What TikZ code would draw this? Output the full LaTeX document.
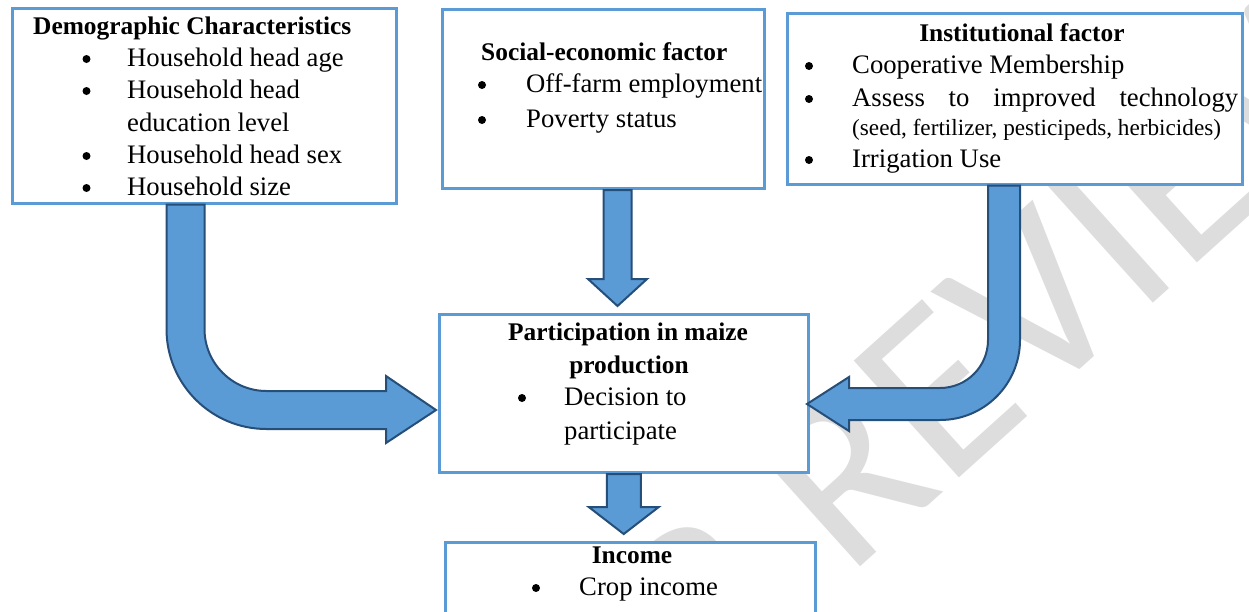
\documentclass[tikz,border=0pt]{standalone}
\usepackage{fontspec}
\setmainfont{Liberation Serif}
\newfontfamily\wmfont{Carlito}
\definecolor{boxblue}{RGB}{91,155,213}
\definecolor{arrowfill}{RGB}{91,155,213}
\definecolor{arrowline}{RGB}{37,78,121}
\definecolor{wmgray}{RGB}{221,221,221}
\tikzset{
  boxnode/.style={draw=boxblue,line width=3pt,fill=white,inner sep=0pt},
  headtxt/.style={anchor=base,inner sep=0pt,font=\bfseries\fontsize{25.4}{30}\selectfont},
  itemtxt/.style={anchor=base west,inner sep=0pt,font=\fontsize{26.7}{32}\selectfont},
  smalltxt/.style={anchor=base west,inner sep=0pt,font=\fontsize{23.2}{28}\selectfont},
  bulletdot/.style={circle,fill=black,inner sep=0pt,minimum size=8pt,yshift=7pt},
  blockarrow/.style={fill=arrowfill,draw=arrowline,line width=2pt,line join=miter}
}
\begin{document}
\begin{tikzpicture}[x=1pt,y=-1pt]
      \useasboundingbox (0,0) rectangle (1249,611);
      \clip (0,0) rectangle (1249,611);
      \fill[white] (0,0) rectangle (1249,611);

      % watermark
      \node[anchor=base west,rotate=42,inner sep=0pt,text=wmgray,font=\wmfont\fontsize{245}{245}\selectfont] (wm) at (436,949) {PEER REVIEW};

      % boxes
      \node[boxnode,minimum width=384pt,minimum height=194.5pt] (Dem) at (204.5,105.75) {};
      \node[boxnode,minimum width=322pt,minimum height=179pt] (Soc) at (603.5,99) {};
      \node[boxnode,minimum width=455pt,minimum height=171pt] (Inst) at (1015,98.5) {};
      \node[boxnode,minimum width=369.5pt,minimum height=158.5pt] (Part) at (623.75,393.25) {};
      \node[boxnode,minimum width=370.5pt,minimum height=98pt] (Inc) at (630.25,591) {};

      % demographic
      \node[headtxt,anchor=base west] (Dem0) at (33,34) {Demographic Characteristics};
      \node[bulletdot] at (86.5,66) {};
      \node[itemtxt] (Dem1) at (127,66) {Household head age};
      \node[bulletdot] at (86.5,98) {};
      \node[itemtxt] (Dem2) at (127,98) {Household head};
      \node[itemtxt] (Dem2b) at (127,131) {education level};
      \node[bulletdot] at (86.5,163) {};
      \node[itemtxt] (Dem3) at (127,163) {Household head sex};
      \node[bulletdot] at (86.5,195) {};
      \node[itemtxt] (Dem4) at (127,195) {Household size};

      % social-economic
      \node[headtxt,anchor=base west] (Soc0) at (481,60) {Social-economic factor};
      \node[bulletdot] at (482,92) {};
      \node[itemtxt] (Soc1) at (526,92) {Off-farm employment};
      \node[bulletdot] at (482,127) {};
      \node[itemtxt] (Soc2) at (526,127) {Poverty status};

      % institutional
      \node[headtxt] (Inst0) at (1022,41) {Institutional factor};
      \node[bulletdot] at (809,73) {};
      \node[itemtxt] (Inst1) at (852,73) {Cooperative Membership};
      \node[bulletdot] at (809,106) {};
      \node[itemtxt] (Inst2) at (852,106) {\makebox[386pt][s]{Assess to improved technology}};
      \node[smalltxt] (Inst2b) at (852,135) {(seed, fertilizer, pesticipeds, herbicides)};
      \node[bulletdot] at (809,167) {};
      \node[itemtxt] (Inst3) at (852,167) {Irrigation Use};

      % participation
      \node[headtxt] (Part0) at (628,340) {Participation in maize};
      \node[headtxt] (Part0b) at (629,373) {production};
      \node[bulletdot] at (522,405) {};
      \node[itemtxt] (Part1) at (564,405) {Decision to};
      \node[itemtxt] (Part1b) at (564,439) {participate};

      % income
      \node[headtxt] (Inc0) at (632,563) {Income};
      \node[bulletdot] at (536,595) {};
      \node[itemtxt] (Inc1) at (579,595) {Crop income};

      % arrows
      \draw[blockarrow] (Soc.south) -- ++(28,0) -- ++(0,89) -- ++(15.5,0) -- ++(-29.5,27)
        -- ++(-29.5,-27) -- ++(15.5,0) -- cycle;
      \draw[blockarrow] ([xshift=-17pt]Part.south) -- ++(34,0) -- ++(0,33) -- ++(18,0) -- ++(-35,27)
        -- ++(-35,-27) -- ++(18,0) -- cycle;
      \draw[blockarrow] ([xshift=-38pt]Dem.south) -- ++(0,124.5) arc[start angle=180,end angle=90,radius=100]
        -- ++(119.5,0) -- ++(0,14) -- ++(50,-33) -- ++(-50,-34) -- ++(0,15) -- ++(-119.5,0)
        arc[start angle=90,end angle=180,radius=62] -- ++(0,-124.5) -- cycle;
      \draw[blockarrow] ([xshift=5pt]Inst.south) -- ++(0,154.5) arc[start angle=0,end angle=90,radius=80]
        -- ++(-91,0) -- ++(0,11) -- ++(-42,-27) -- ++(42,-27) -- ++(0,11) -- ++(91,0)
        arc[start angle=90,end angle=0,radius=48] -- ++(0,-154.5) -- cycle;
    \end{tikzpicture}
\end{document}
